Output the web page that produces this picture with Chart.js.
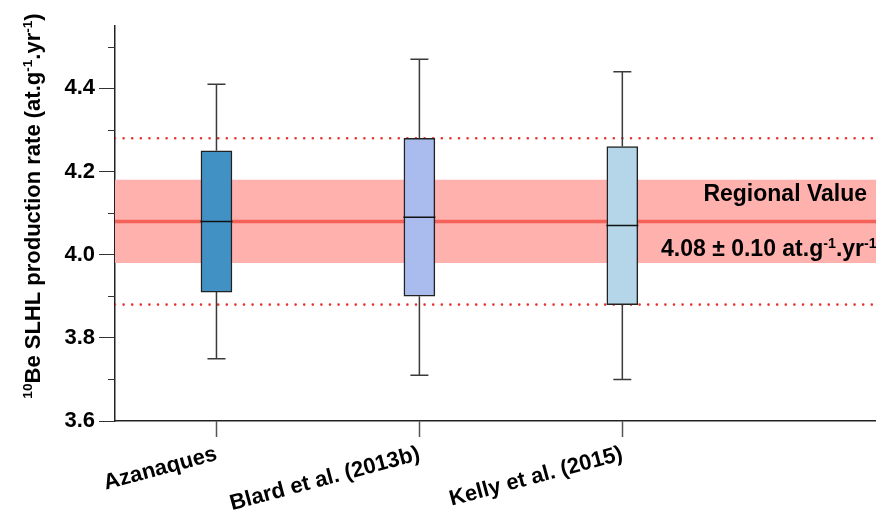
<!DOCTYPE html>
<html lang="en">

<head>
    <meta charset="UTF-8">
    <title>10Be SLHL production rate</title>
    <script src="https://cdn.jsdelivr.net/npm/chart.js"></script>
    <style>
        html, body { margin: 0; padding: 0; background: #fff; }
        .chart-container { width: 876px; height: 511px; }
    </style>
</head>

<body>
    <div class="chart-container">
        <canvas id="prodChart"></canvas>
    </div>

    <script>
        // Data
        const categories = ['Azanaques', 'Blard et al. (2013b)', 'Kelly et al. (2015)'];
        const xPositions = [1, 2, 3];
        const whiskerMin = [3.75, 3.71, 3.70];
        const q1 = [3.91, 3.90, 3.88];
        const median = [4.08, 4.09, 4.07];
        const q3 = [4.25, 4.28, 4.26];
        const whiskerMax = [4.41, 4.47, 4.44];
        const boxColors = ['#4191c4', '#aabbee', '#b4d6e8'];

        const regionalValue = 4.08;
        const regionalErr = 0.10;
        const outerBand = [3.88, 4.28]; // dotted lines
        const yTicks = [3.6, 3.8, 4.0, 4.2, 4.4];
        const yMinor = [3.7, 3.9, 4.1, 4.3, 4.5];
        const xRange = [0.5, 4.25];
        const yRange = [3.6, 4.55];

        const FONT = "'Liberation Sans', Arial, Helvetica, sans-serif";
        Chart.defaults.font.family = FONT;
        Chart.defaults.color = '#000';

        const hLine = (y) => [{ x: xRange[0], y: y }, { x: xRange[1], y: y }];

        // draws text with superscript parts, left to right
        function drawRich(ctx, parts, x, y, size, measureOnly) {
            let cx = x;
            parts.forEach(p => {
                const s = p.sup ? size * 0.62 : size;
                ctx.font = 'bold ' + s + 'px ' + FONT;
                if (!measureOnly) ctx.fillText(p.t, cx, p.sup ? y - size * 0.38 : y);
                cx += ctx.measureText(p.t).width;
            });
            return cx - x;
        }

        const boxExtras = {
            id: 'boxExtras',
            afterDatasetsDraw(chart) {
                const ctx = chart.ctx;
                const xs = chart.scales.x, ys = chart.scales.y;
                ctx.save();
                ctx.lineWidth = 1.5;
                xPositions.forEach((v, i) => {
                    const x = xs.getPixelForValue(v);
                    const cap = 9, half = 16;
                    ctx.strokeStyle = '#3a3a3a';
                    ctx.beginPath();
                    ctx.moveTo(x, ys.getPixelForValue(q3[i]));
                    ctx.lineTo(x, ys.getPixelForValue(whiskerMax[i]));
                    ctx.moveTo(x, ys.getPixelForValue(q1[i]));
                    ctx.lineTo(x, ys.getPixelForValue(whiskerMin[i]));
                    ctx.moveTo(x - cap, ys.getPixelForValue(whiskerMax[i]));
                    ctx.lineTo(x + cap, ys.getPixelForValue(whiskerMax[i]));
                    ctx.moveTo(x - cap, ys.getPixelForValue(whiskerMin[i]));
                    ctx.lineTo(x + cap, ys.getPixelForValue(whiskerMin[i]));
                    ctx.stroke();
                    ctx.strokeStyle = '#111';
                    ctx.beginPath();
                    ctx.moveTo(x - half, ys.getPixelForValue(median[i]));
                    ctx.lineTo(x + half, ys.getPixelForValue(median[i]));
                    ctx.stroke();
                });
                ctx.restore();
            },
            afterDraw(chart) {
                const ctx = chart.ctx;
                const ys = chart.scales.y;
                const area = chart.chartArea;
                ctx.save();
                // minor ticks on the y axis
                ctx.strokeStyle = '#333';
                ctx.lineWidth = 1;
                yMinor.forEach(v => {
                    const y = Math.round(ys.getPixelForValue(v)) + 0.5;
                    ctx.beginPath();
                    ctx.moveTo(area.left - 7, y);
                    ctx.lineTo(area.left, y);
                    ctx.stroke();
                });

                // regional value annotation
                ctx.fillStyle = '#000';
                ctx.textBaseline = 'alphabetic';
                const yLine = ys.getPixelForValue(regionalValue);
                ctx.font = 'bold 23px ' + FONT;
                ctx.textAlign = 'right';
                ctx.fillText('Regional Value', area.right - 9, yLine - 20);
                ctx.textAlign = 'left';
                drawRich(ctx, [
                    { t: regionalValue.toFixed(2) + ' \u00b1 ' + regionalErr.toFixed(2) + ' at.g' },
                    { t: '-1', sup: true },
                    { t: '.yr' },
                    { t: '-1', sup: true }
                ], area.right - 215, yLine + 35, 23);

                // y axis title with superscripts
                const title = [
                    { t: '10', sup: true },
                    { t: 'Be SLHL production rate (at.g' },
                    { t: '-1', sup: true },
                    { t: '.yr' },
                    { t: '-1', sup: true },
                    { t: ')' }
                ];
                const w = drawRich(ctx, title, 0, 0, 22, true);
                ctx.translate(40, 206);
                ctx.rotate(-Math.PI / 2);
                drawRich(ctx, title, -w / 2, 0, 22);
                ctx.restore();
            }
        };

        const config = {
            type: 'bar',
            data: {
                datasets: [
                    {
                        type: 'bar',
                        data: xPositions.map((v, i) => ({ x: v, y: [q1[i], q3[i]] })),
                        backgroundColor: boxColors,
                        borderColor: '#222',
                        borderWidth: 1.5,
                        borderSkipped: false,
                        barThickness: 31,
                        order: 0
                    },
                    {
                        type: 'line',
                        data: hLine(outerBand[1]),
                        borderColor: '#e8322b',
                        borderWidth: 2.6,
                        borderDash: [0, 8.6],
                        borderCapStyle: 'round',
                        pointRadius: 0,
                        order: 2
                    },
                    {
                        type: 'line',
                        data: hLine(outerBand[0]),
                        borderColor: '#e8322b',
                        borderWidth: 2.6,
                        borderDash: [0, 8.6],
                        borderCapStyle: 'round',
                        pointRadius: 0,
                        order: 2
                    },
                    {
                        type: 'line',
                        data: hLine(regionalValue),
                        borderColor: '#f4625a',
                        borderWidth: 3.5,
                        pointRadius: 0,
                        order: 3
                    },
                    {
                        type: 'line',
                        data: hLine(regionalValue + regionalErr),
                        borderWidth: 0,
                        backgroundColor: '#ffb1ae',
                        fill: '+1',
                        pointRadius: 0,
                        order: 4
                    },
                    {
                        type: 'line',
                        data: hLine(regionalValue - regionalErr),
                        borderWidth: 0,
                        pointRadius: 0,
                        order: 5
                    }
                ]
            },
            options: {
                responsive: true,
                maintainAspectRatio: false,
                animation: false,
                layout: { padding: { top: 26, left: 0, right: 0, bottom: 0 } },
                plugins: {
                    legend: { display: false },
                    tooltip: { enabled: false }
                },
                scales: {
                    x: {
                        type: 'linear',
                        offset: false,
                        min: xRange[0],
                        max: xRange[1],
                        afterBuildTicks: (scale) => {
                            scale.ticks = xPositions.map(v => ({ value: v }));
                        },
                        afterFit: (scale) => {
                            scale.height = 90;
                            scale.paddingLeft = 0;
                            scale.paddingRight = 0;
                        },
                        grid: {
                            offset: false,
                            drawOnChartArea: false,
                            tickLength: 16,
                            tickColor: '#555',
                            tickWidth: 1.5
                        },
                        border: { color: '#222', width: 1.5 },
                        ticks: {
                            autoSkip: false,
                            minRotation: 15,
                            maxRotation: 15,
                            padding: 4,
                            font: { size: 22, weight: 'bold' },
                            callback: (value) => categories[xPositions.indexOf(value)]
                        }
                    },
                    y: {
                        min: yRange[0],
                        max: yRange[1],
                        afterBuildTicks: (scale) => {
                            scale.ticks = yTicks.map(v => ({ value: v }));
                        },
                        afterFit: (scale) => {
                            scale.width = 115;
                        },
                        grid: {
                            drawOnChartArea: false,
                            tickLength: 16,
                            tickColor: '#333',
                            tickWidth: 1
                        },
                        border: { color: '#222', width: 1.5 },
                        ticks: {
                            padding: 4,
                            font: { size: 22, weight: 'bold' },
                            callback: (value) => value.toFixed(1)
                        }
                    }
                }
            },
            plugins: [boxExtras]
        };

        const chart = new Chart(document.getElementById('prodChart').getContext('2d'), config);
    </script>
</body>

</html>
